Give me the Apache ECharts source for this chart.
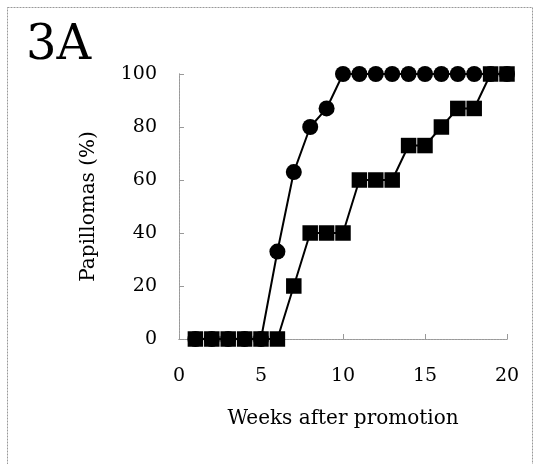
<!DOCTYPE html>
<html><head><meta charset="utf-8">
<script src="https://cdn.jsdelivr.net/npm/echarts@6/dist/echarts.min.js"></script>
<style>html,body{margin:0;padding:0;background:#fff}#c{width:539px;height:464px}</style>
</head><body><div id="c"></div>
<script>
const weeks = [1,2,3,4,5,6,7,8,9,10,11,12,13,14,15,16,17,18,19,20];
const circleVals = [0,0,0,0,0,33,63,80,87,100,100,100,100,100,100,100,100,100,100,100];
const squareVals = [0,0,0,0,0,0,20,40,40,40,60,60,60,73,73,80,87,87,100,100];
const xTicks = [0,5,10,15,20];
const yTicks = [0,20,40,60,80,100];
const FONT = '"DejaVu Serif", serif';
const frame = {show:true, lineStyle:{color:'#999', width:1, type:[2,1]}};
const chart = echarts.init(document.getElementById('c'), null, {renderer:'canvas'});
chart.setOption({
  animation:false,
  backgroundColor:'#fff',
  grid:{left:179, right:32, top:74, bottom:125},
  graphic:[
    {type:'rect', shape:{x:7.5, y:7.5, width:525, height:470}, style:{fill:'none', stroke:'#999', lineWidth:1, lineDash:[2,1]}, z:-1},
    {type:'text', left:26, top:23, style:{text:'3A', font:'48px ' + FONT, fill:'#000'}}
  ],
  xAxis:[{
    type:'value', min:xTicks[0], max:xTicks[xTicks.length-1], interval:5,
    name:'Weeks after promotion', nameLocation:'middle', nameGap:70,
    nameTextStyle:{fontFamily:'"DejaVu Serif", serif', fontSize:20, color:'#000'},
    axisLine:frame, axisTick:{show:true, inside:true, length:5, lineStyle:{color:'#999'}},
    axisLabel:{margin:28, fontFamily:'"DejaVu Serif", serif', fontSize:19, color:'#000'},
    splitLine:{show:false}
  },{
    type:'value', position:'top', min:0, max:20, axisLine:frame, axisTick:{show:false}, axisLabel:{show:false}, splitLine:{show:false}
  }],
  yAxis:[{
    type:'value', min:yTicks[0], max:yTicks[yTicks.length-1], interval:20,
    name:'Papillomas (%)', nameLocation:'middle', nameGap:80,
    nameTextStyle:{fontFamily:'"DejaVu Serif", serif', fontSize:20, color:'#000'},
    axisLine:frame, axisTick:{show:true, inside:true, length:5, lineStyle:{color:'#999'}},
    axisLabel:{margin:22, fontFamily:'"DejaVu Serif", serif', fontSize:19, color:'#000'},
    splitLine:{show:false}
  },{
    type:'value', position:'right', min:0, max:100, axisLine:frame, axisTick:{show:false}, axisLabel:{show:false}, splitLine:{show:false}
  }],
  series:[
    {type:'line', data:weeks.map((w,i)=>[w,circleVals[i]]), symbol:'circle', symbolSize:16,
     itemStyle:{color:'#000'}, lineStyle:{color:'#000', width:2}, z:2},
    {type:'line', data:weeks.map((w,i)=>[w,squareVals[i]]), symbol:'rect', symbolSize:15.5,
     itemStyle:{color:'#000'}, lineStyle:{color:'#000', width:2}, z:3}
  ]
});
</script></body></html>
